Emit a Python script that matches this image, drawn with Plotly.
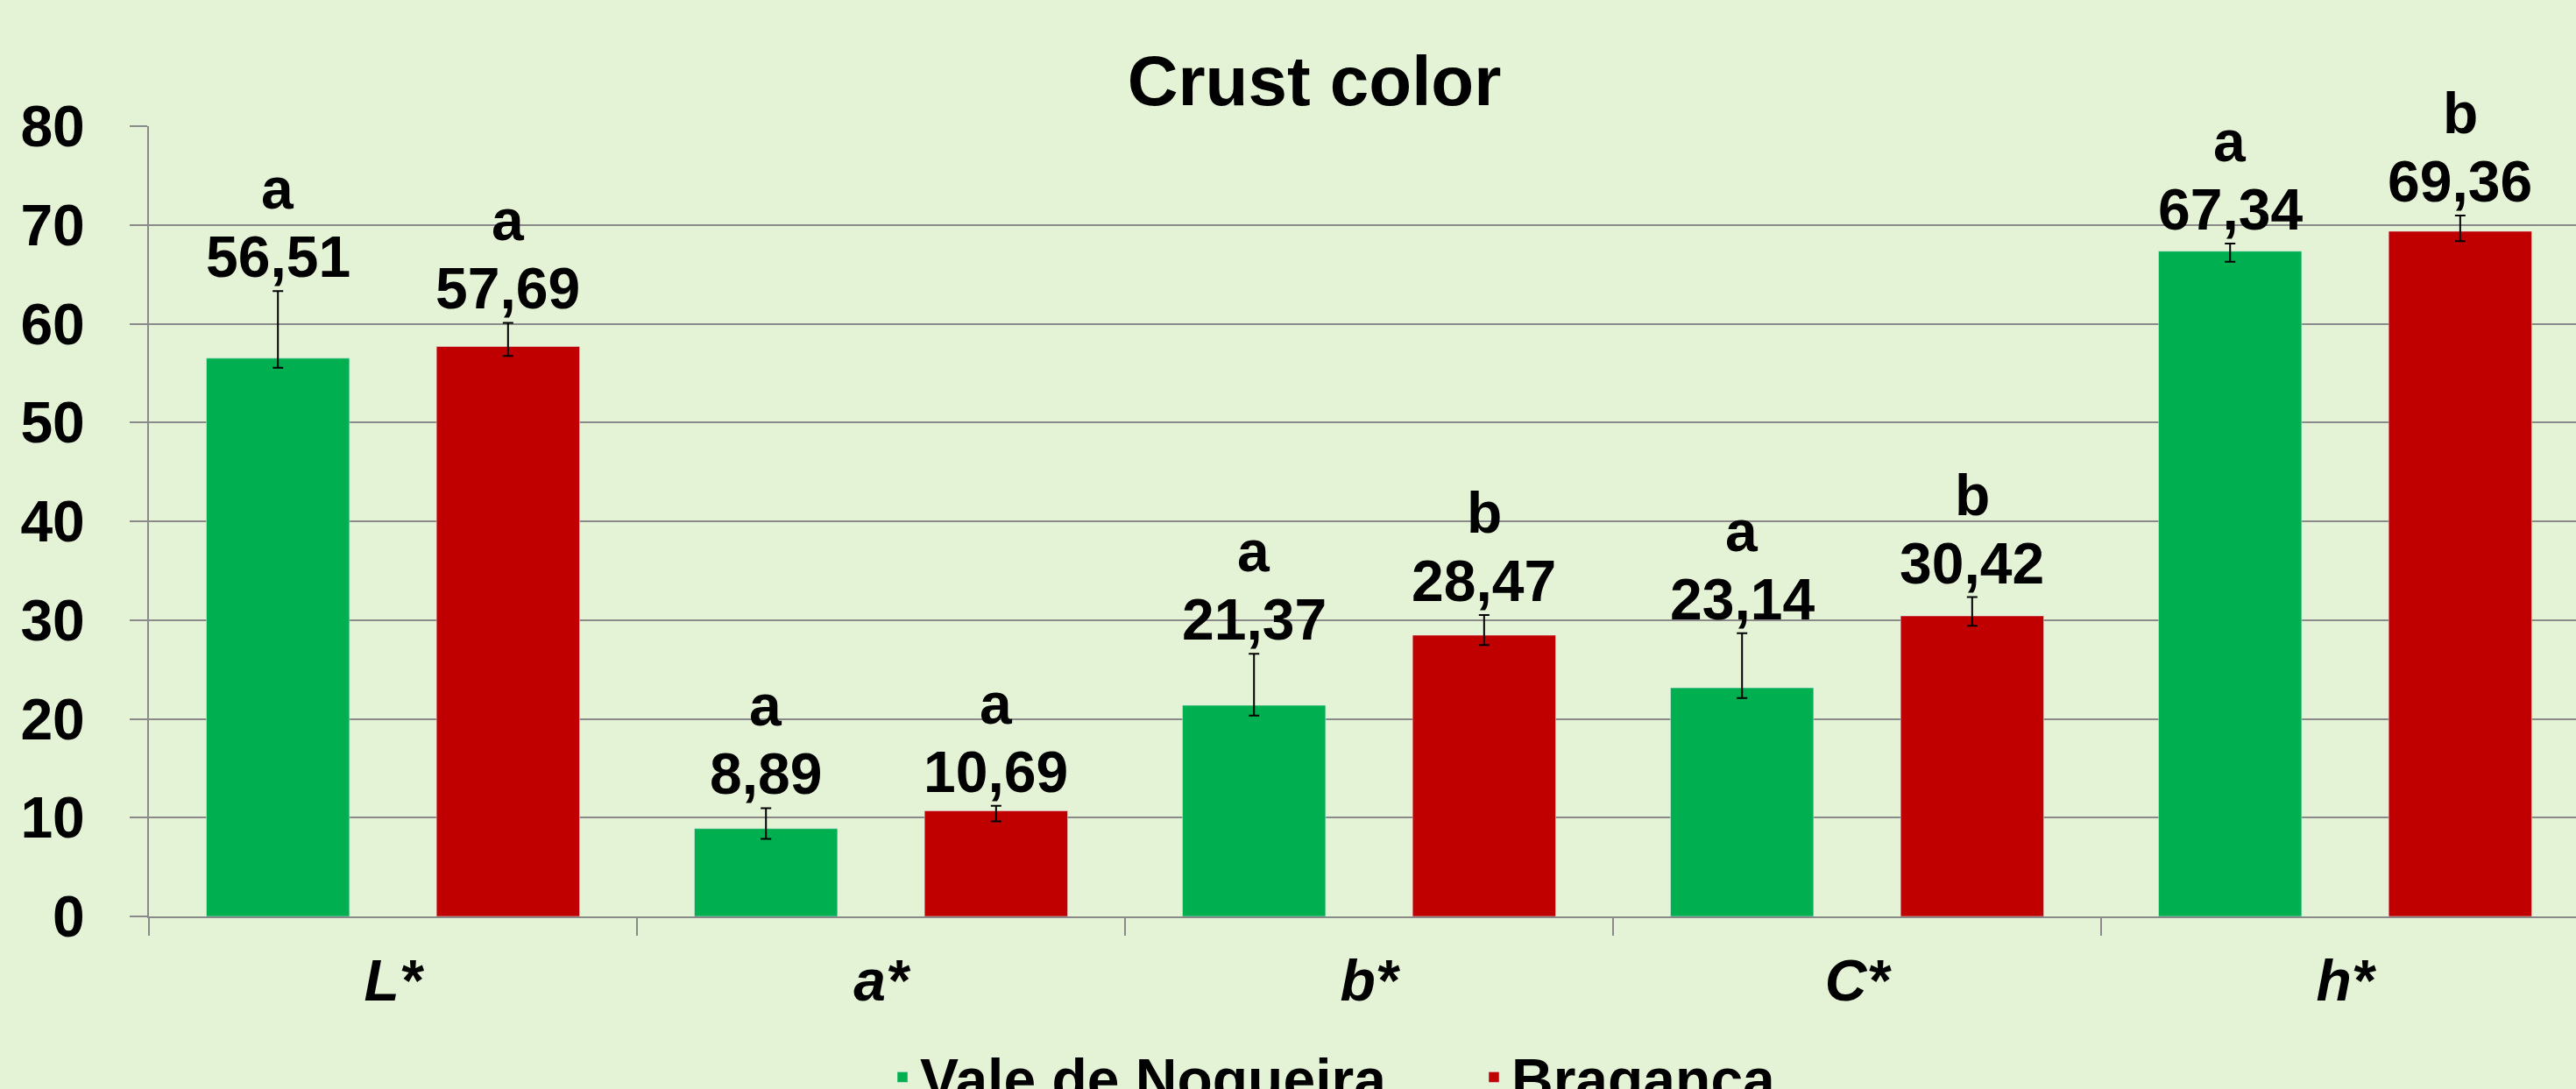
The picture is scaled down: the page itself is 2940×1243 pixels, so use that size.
import plotly.graph_objects as go

# ---- data ----
categories = ["L*", "a*", "b*", "C*", "h*"]
tick_labels = ["<i>L*</i>", "<i>a*</i>", "<i>b*</i>", "<i>C*</i>", "<i>h*</i>"]
vale = [56.51, 8.89, 21.37, 23.14, 67.34]
braganca = [57.69, 10.69, 28.47, 30.42, 69.36]
vale_err_plus = [6.80, 2.07, 5.22, 5.52, 0.77]
vale_err_minus = [0.97, 1.04, 1.03, 1.03, 1.07]
brag_err_plus = [2.40, 0.50, 2.03, 1.90, 1.60]
brag_err_minus = [0.95, 1.07, 0.99, 1.00, 1.00]
vale_letters = ["a", "a", "a", "a", "a"]
brag_letters = ["a", "a", "b", "b", "b"]
series_names = ["Vale de Nogueira", "Braganca"]

GREEN = "#00B050"
RED = "#C00000"
BG = "#E4F2D6"
GRID = "#8A8A8A"
FONT = "Liberation Sans, Arial, sans-serif"
FS = 66

BARGAP = 0.057
BARGROUPGAP = 0.378

fig = go.Figure()
fig.add_trace(go.Bar(
    x=categories, y=vale, name=series_names[0], marker_color=GREEN,
    error_y=dict(type="data", symmetric=False, array=vale_err_plus,
                 arrayminus=vale_err_minus, color="black", thickness=2, width=6),
))
fig.add_trace(go.Bar(
    x=categories, y=braganca, name=series_names[1], marker_color=RED,
    error_y=dict(type="data", symmetric=False, array=brag_err_plus,
                 arrayminus=brag_err_minus, color="black", thickness=2, width=6),
))

def fmt(v):
    return f"{v:.2f}".replace(".", ",")

offset = (1 - BARGAP) / 4.0
annotations = []
for vals, errs, letters, sgn in [(vale, vale_err_plus, vale_letters, -1),
                                 (braganca, brag_err_plus, brag_letters, 1)]:
    for i, (v, e, L) in enumerate(zip(vals, errs, letters)):
        xi = i + sgn * offset
        top = v + e
        annotations.append(dict(x=xi, y=top, xref="x", yref="y", text=fmt(v),
                                showarrow=False, yanchor="bottom", xanchor="center",
                                font=dict(family=FONT, size=FS, color="black", weight="bold")))
        annotations.append(dict(x=xi, y=top, xref="x", yref="y", text=L,
                                showarrow=False, yanchor="bottom", xanchor="center", yshift=78,
                                font=dict(family=FONT, size=FS, color="black", weight="bold")))

fig.update_layout(
    width=2940, height=1243,
    paper_bgcolor=BG, plot_bgcolor=BG,
    margin=dict(l=170, r=0, t=144, b=197, autoexpand=False),
    barmode="group", bargap=BARGAP, bargroupgap=BARGROUPGAP,
    title=dict(text="Crust color", x=1500 / 2940, xanchor="center",
               y=1 - 92 / 1243, yanchor="middle", yref="container",
               font=dict(family=FONT, size=80, color="black", weight="bold")),
    font=dict(family=FONT, color="black"),
    showlegend=True,
    legend=dict(orientation="h", xref="container", yref="container",
                x=1010 / 2940, xanchor="left", y=1 - 1180 / 1243, yanchor="top",
                font=dict(family=FONT, size=FS, color="black", weight="bold"),
                bgcolor="rgba(0,0,0,0)", entrywidth=630, entrywidthmode="pixels"),
    annotations=annotations,
)
fig.update_xaxes(
    type="category", range=[-0.5, 4.473],
    tickmode="array", tickvals=categories, ticktext=tick_labels,
    tickson="boundaries", ticks="outside", ticklen=20, tickwidth=2, tickcolor=GRID,
    showline=True, linecolor=GRID, linewidth=2, showgrid=False,
    ticklabelstandoff=15,
    tickfont=dict(family=FONT, size=FS, color="black", weight="bold"),
)
fig.update_yaxes(
    range=[0, 80], tickmode="linear", dtick=10, tick0=0,
    showgrid=True, gridcolor=GRID, gridwidth=2,
    showline=True, linecolor=GRID, linewidth=2,
    ticks="outside", ticklen=20, tickwidth=2, tickcolor=GRID,
    ticklabelstandoff=38, zeroline=False,
    tickfont=dict(family=FONT, size=FS, color="black", weight="bold"),
)

fig.write_html(
    "out.html",
    config={"displayModeBar": False},
    post_script="document.body.style.margin='0px';document.body.style.overflow='hidden';",
)
